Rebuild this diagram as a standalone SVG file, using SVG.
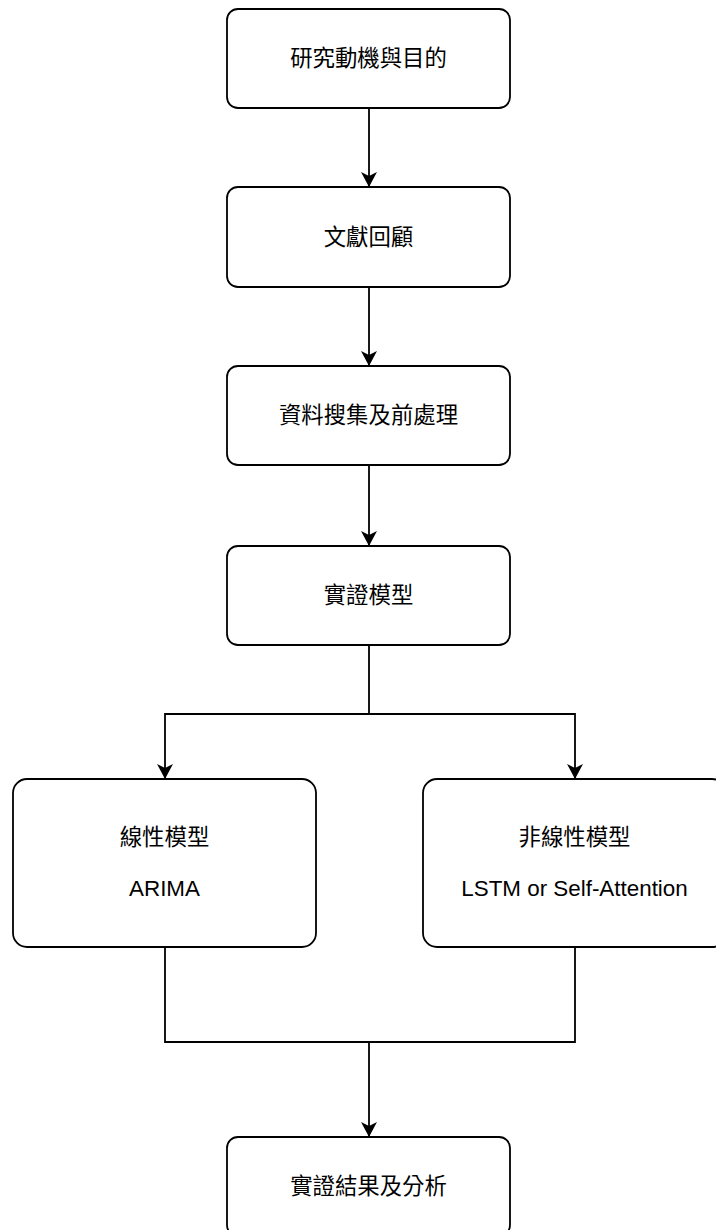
<svg xmlns="http://www.w3.org/2000/svg" width="716" height="1230" viewBox="0 0 716 1230">
<style>
.box{fill:#fff;stroke:#000;stroke-width:1.8}
.lbl{font-family:"Liberation Sans","Noto Sans CJK TC",sans-serif;font-size:22.4px;fill:#000;text-anchor:middle;dominant-baseline:central}
.edge{fill:none;stroke:#000;stroke-width:1.8}
</style>
<defs>
<marker id="arr" markerUnits="userSpaceOnUse" markerWidth="20" markerHeight="20" refX="15" refY="8" orient="auto">
<path d="M0,0 L15,8 L0,16 L4,8 Z" fill="#000"/>
</marker>
</defs>
<rect width="716" height="1230" fill="#fff"/>
<g id="connectors">
<path class="edge" d="M369,108 V187" marker-end="url(#arr)"/>
<path class="edge" d="M369,287 V366" marker-end="url(#arr)"/>
<path class="edge" d="M369,465 V546" marker-end="url(#arr)"/>
<path class="edge" d="M369,645 V714 H165 V779" marker-end="url(#arr)"/>
<path class="edge" d="M369,714 H575 V779" marker-end="url(#arr)"/>
<path class="edge" d="M165,947 V1042 H369"/>
<path class="edge" d="M575,947 V1042 H369"/>
<path class="edge" d="M369,1042 V1137" marker-end="url(#arr)"/>
</g>
<g id="n1"><rect class="box" x="227" y="9" width="283" height="99" rx="11"/><text class="lbl" x="368.5" y="58.5">研究動機與目的</text></g>
<g id="n2"><rect class="box" x="227" y="187" width="283" height="100" rx="11"/><text class="lbl" x="368.5" y="237">文獻回顧</text></g>
<g id="n3"><rect class="box" x="227" y="366" width="283" height="99" rx="11"/><text class="lbl" x="368.5" y="415.5">資料搜集及前處理</text></g>
<g id="n4"><rect class="box" x="227" y="546" width="283" height="99" rx="11"/><text class="lbl" x="368.5" y="595.5">實證模型</text></g>
<g id="n5"><rect class="box" x="13" y="779" width="303" height="168" rx="14"/><text class="lbl" x="164.5" y="837">線性模型</text><text class="lbl" x="164.5" y="888">ARIMA</text></g>
<g id="n6"><rect class="box" x="423" y="779" width="303" height="168" rx="14"/><text class="lbl" x="574.5" y="837">非線性模型</text><text class="lbl" x="574.5" y="888">LSTM or Self-Attention</text></g>
<g id="n7"><rect class="box" x="227" y="1137" width="283" height="99" rx="11"/><text class="lbl" x="368.5" y="1186.5">實證結果及分析</text></g>
</svg>
